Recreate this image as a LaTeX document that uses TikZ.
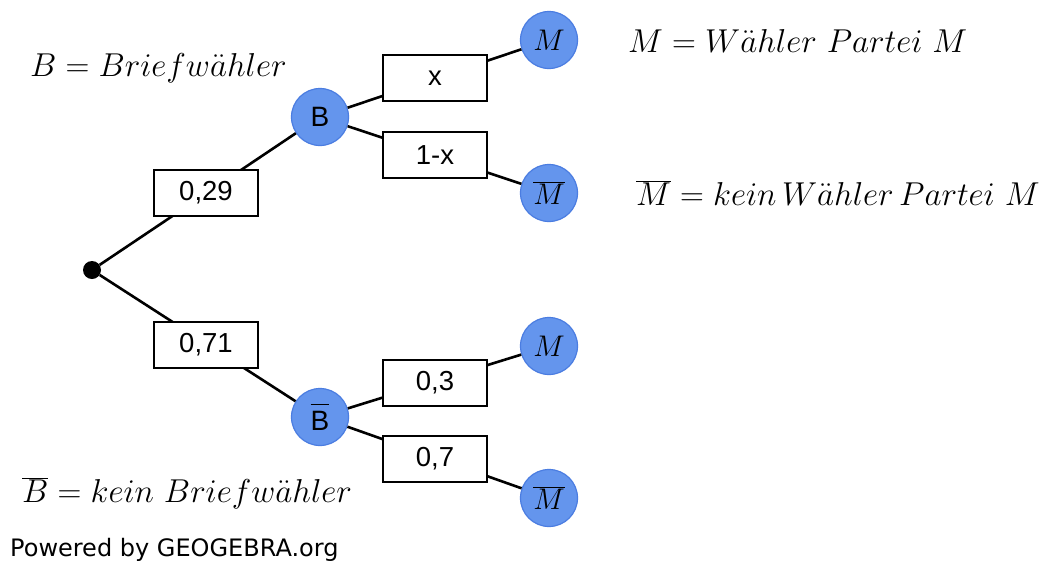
\documentclass[tikz,border=0pt]{standalone}
\usepackage{fontspec}
\newfontfamily\lab{Liberation Sans}
\newfontfamily\geo{DejaVu Sans}
\definecolor{nodeblue}{RGB}{100,149,237}
\definecolor{nodeedge}{RGB}{75,125,225}
\newcommand\legmath[1]{\scalebox{1.33}{\Huge$#1$}}
\newcommand\evmath[1]{\scalebox{1.2}{\Huge$#1$}}
\begin{document}
\begin{tikzpicture}[x=1pt,y=-1pt,
  evt/.style={circle,fill=nodeblue,draw=nodeedge,line width=1.2pt,minimum size=57pt,inner sep=0pt},
  prob/.style={rectangle,draw=black,fill=white,line width=1.6pt,minimum width=104pt,minimum height=46pt,inner sep=0pt,font=\lab\fontsize{27.5}{30}\selectfont},
  edge/.style={line width=2.6pt},
  legend/.style={inner sep=0pt,anchor=west},
  evtB/.style={font=\lab\fontsize{28}{32}\selectfont}]
\useasboundingbox (0,0) rectangle (1046,563);
\fill[white] (0,0) rectangle (1046,563);
% nodes
\node[circle,fill=black,minimum size=18pt,inner sep=0pt] (r) at (92,270) {};
\node[evt,evtB] (b) at (320,117) {B};
\node[evt,evtB] (nb) at (320,417) {$\overline{\mbox{\rule{0pt}{24pt}B}}$};
\node[evt] (m1) at (549,40) {\evmath{M}};
\node[evt] (m2) at (549,193) {\evmath{\overline{M}}};
\node[evt] (m3) at (549,346) {\evmath{M}};
\node[evt] (m4) at (549,498) {\evmath{\overline{M}}};
% edges
\draw[edge] (r) -- (b);
\draw[edge] (r) -- (nb);
\draw[edge] (b) -- (m1);
\draw[edge] (b) -- (m2);
\draw[edge] (nb) -- (m3);
\draw[edge] (nb) -- (m4);
% probability boxes
\node[prob] (p1) at (206,193) {0,29};
\node[prob] (p2) at (206,345) {0,71};
\node[prob] (p3) at (435,78) {x};
\node[prob] (p4) at (435,155) {1-x};
\node[prob] (p5) at (435,383) {0,3};
\node[prob] (p6) at (435,459) {0,7};
% legends
\node[legend] (lb) at (30,68) {\legmath{B = Briefw\ddot{a}hler}};
\node[legend] (lm) at (628,41) {\legmath{M = W\ddot{a}hler\ Partei\ M}};
\node[legend] (lnm) at (636,193) {\legmath{\overline{M} = kein\,W\ddot{a}hler\,Partei\ M}};
\node[legend] (lnb) at (22,493) {\legmath{\overline{B} = kein\ Briefw\ddot{a}hler}};
\node[inner sep=0pt,anchor=west,font=\geo\fontsize{24}{28}\selectfont] (pw) at (10,550) {Powered by GEOGEBRA.org};
\end{tikzpicture}
\end{document}
